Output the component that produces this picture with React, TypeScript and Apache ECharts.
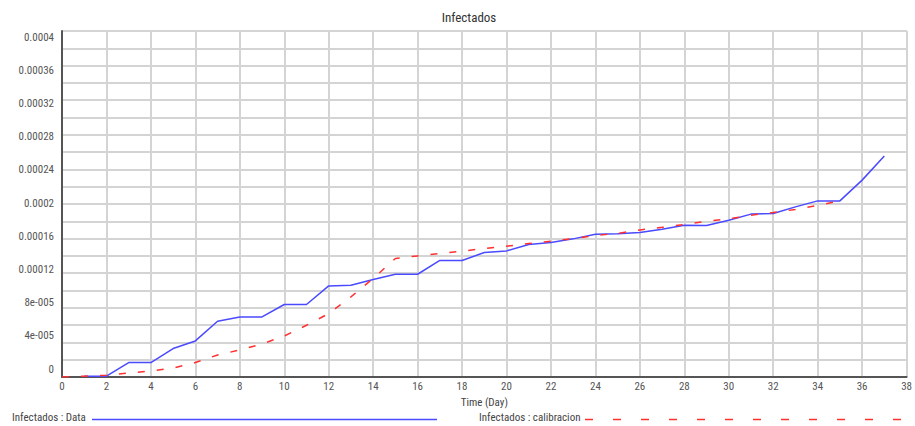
import React, { useEffect, useRef } from "react";
import * as echarts from "echarts";

const dataDays = [1, 2, 3, 4, 5, 6, 7, 8, 9, 10, 11, 12, 13, 14, 15, 16, 17, 18, 19, 20, 21, 22, 23, 24, 25, 26, 27, 28, 29, 30, 31, 32, 33, 34, 35, 36, 37];
const dataValues = [
  0.000001, 0.000001, 0.0000167, 0.0000167, 0.0000329, 0.0000417, 0.0000644, 0.0000694, 0.0000694, 0.0000838,
  0.0000838, 0.0001053, 0.0001061, 0.0001127, 0.0001188, 0.0001188, 0.0001347, 0.0001347, 0.0001439, 0.0001458,
  0.0001532, 0.0001555, 0.0001597, 0.0001651, 0.0001657, 0.0001671, 0.0001709, 0.0001755, 0.0001752, 0.0001813,
  0.0001883, 0.000189, 0.0001967, 0.0002036, 0.0002036, 0.0002276, 0.0002554,
];

const calDays = [0, 1, 2, 3, 4, 5, 6, 7, 8, 9, 10, 11, 12, 13, 14, 15, 16, 17, 18, 19, 20, 21, 22, 23, 24, 25, 26, 27, 28, 29, 30, 31, 32, 33, 34, 35];
const calValues = [
  0, 0.000001, 0.000002, 0.0000046, 0.000007, 0.0000104, 0.0000167, 0.0000255, 0.0000312, 0.0000382,
  0.0000474, 0.0000598, 0.0000733, 0.0000926, 0.0001139, 0.000137, 0.00014, 0.0001428, 0.0001454, 0.0001486,
  0.0001512, 0.0001544, 0.000157, 0.00016, 0.0001636, 0.000166, 0.00017, 0.000173, 0.0001763, 0.00018,
  0.0001828, 0.0001871, 0.0001902, 0.0001937, 0.0001983, 0.0002036,
];

const yTickLabels = ["0", "4e-005", "8e-005", "0.00012", "0.00016", "0.0002", "0.00024", "0.00028", "0.00032", "0.00036", "0.0004"];

const titleText = "Infectados";
const xAxisName = "Time (Day)";
const legendData = "Infectados : Data";
const legendCal = "Infectados : calibracion";

const FONT = "'Liberation Sans Narrow', 'Roboto Condensed', Roboto, sans-serif";

export default function App() {
  const ref = useRef<HTMLDivElement>(null);
  useEffect(() => {
    if (!ref.current) return;
    const chart = echarts.init(ref.current, null, { renderer: "svg" });
    chart.setOption({
      animation: false,
      backgroundColor: "#ffffff",
      textStyle: { fontFamily: FONT },
      title: {
        text: titleText,
        left: 464,
        top: 6,
        textAlign: "center",
        textStyle: { fontSize: 13, fontWeight: "normal", color: "#333", fontFamily: FONT },
      },
      grid: [
        {
          left: 62,
          right: 5,
          top: 31,
          bottom: 49,
          show: true,
          borderColor: "#555",
          borderWidth: 1,
          backgroundColor: "#fff",
        },
        { left: 62, right: 5, top: 37, bottom: 57, show: false },
      ],
      xAxis: [
        {
          type: "value",
          gridIndex: 0,
          min: 0,
          max: 38,
          interval: 2,
          name: xAxisName,
          nameLocation: "middle",
          nameGap: 19,
          nameTextStyle: { fontSize: 11, color: "#444", fontFamily: FONT },
          axisLine: { show: true, lineStyle: { color: "#555", width: 2 } },
          axisTick: { show: false },
          axisLabel: { fontSize: 11, color: "#555", margin: 4, fontFamily: FONT },
          splitLine: { show: true, lineStyle: { color: "#d4d4d4", width: 2 } },
        },
        {
          type: "value",
          gridIndex: 1,
          min: 0,
          max: 38,
          show: false,
        },
      ],
      yAxis: [
        {
          type: "value",
          gridIndex: 0,
          min: 0,
          max: 0.0004,
          interval: 0.00002,
          axisLine: { show: true, lineStyle: { color: "#555", width: 2 } },
          axisTick: { show: false },
          axisLabel: { show: false },
          splitLine: { show: true, lineStyle: { color: "#d4d4d4", width: 2 } },
        },
        {
          type: "value",
          gridIndex: 1,
          min: 0,
          max: 0.0004,
          interval: 0.00004,
          axisLine: { show: false },
          axisTick: { show: false },
          splitLine: { show: false },
          axisLabel: {
            fontSize: 11,
            color: "#555",
            margin: 8,
            fontFamily: FONT,
            formatter: (v: number) => yTickLabels[Math.round(v / 0.00004)] ?? "",
          },
        },
      ],
      series: [
        {
          name: legendData,
          type: "line",
          xAxisIndex: 0,
          yAxisIndex: 0,
          data: dataDays.map((d, i) => [d, dataValues[i]]),
          showSymbol: false,
          lineStyle: { color: "#4a4aff", width: 1.5 },
          z: 3,
        },
        {
          name: legendCal,
          type: "line",
          xAxisIndex: 0,
          yAxisIndex: 0,
          data: calDays.map((d, i) => [d, calValues[i]]),
          showSymbol: false,
          lineStyle: { color: "#ff3030", width: 1.5, type: [7, 12] },
          z: 4,
        },
      ],
      graphic: [
        {
          type: "text",
          left: 12,
          top: 412,
          style: { text: legendData, fontSize: 11, fill: "#444", fontFamily: FONT },
        },
        {
          type: "line",
          shape: { x1: 92, y1: 419.5, x2: 437, y2: 419.5 },
          style: { stroke: "#4a4aff", lineWidth: 1.5 },
        },
        {
          type: "text",
          left: 479,
          top: 412,
          style: { text: legendCal, fontSize: 11, fill: "#444", fontFamily: FONT },
        },
        {
          type: "line",
          shape: { x1: 585, y1: 419.5, x2: 910, y2: 419.5 },
          style: { stroke: "#ff3030", lineWidth: 1.5, lineDash: [8, 20] },
        },
      ],
    });
    return () => chart.dispose();
  }, []);
  return <div ref={ref} style={{ position: "fixed", left: 0, top: 0, width: 915, height: 426 }} />;
}
